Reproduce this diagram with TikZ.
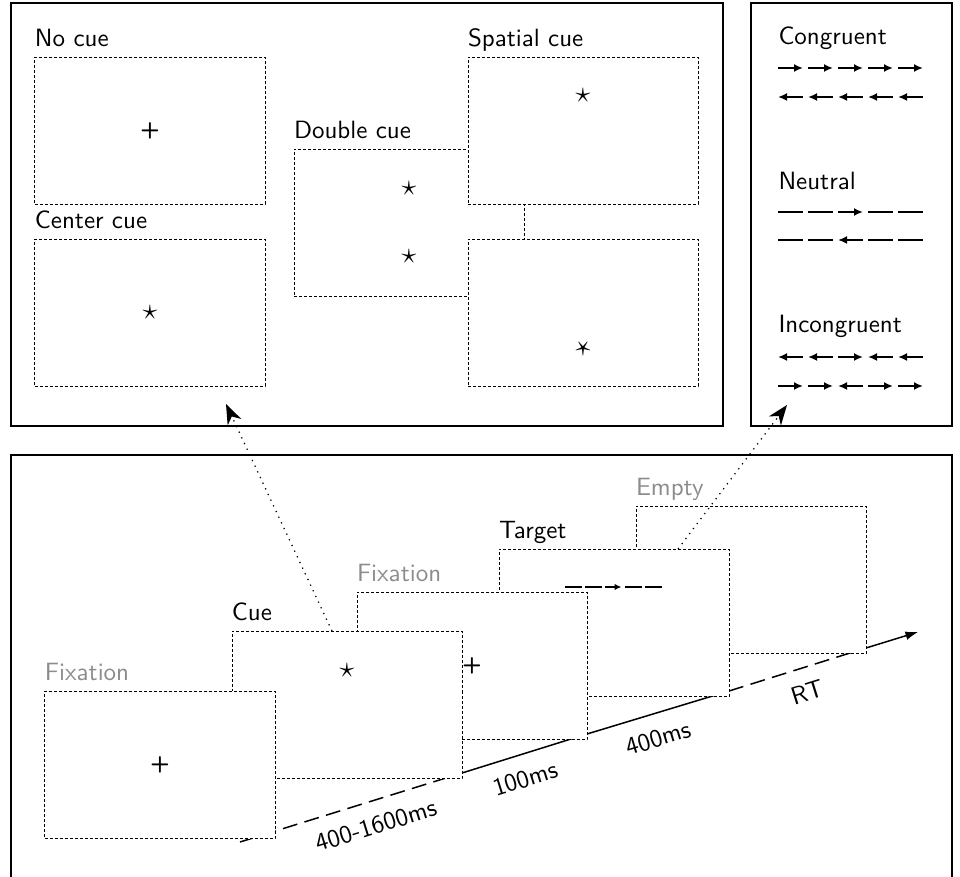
\documentclass[tikz,border=0pt]{standalone}
\usetikzlibrary{arrows.meta}
\renewcommand{\familydefault}{\sfdefault}
\newcommand{\fixcross}{{\small\bfseries +}}
\newcommand{\cuestar}{{\large$\star$}}

\tikzset{
  screen/.style={draw, fill=white, line width=0.4pt, dash pattern=on 1.2pt off 0.8pt,
    minimum width=92pt, minimum height=58.8pt, inner sep=0pt},
  caption/.style={anchor=base west, inner sep=0pt},
  faded/.style={caption, text=black!45},
  panel/.style={line width=0.5pt},
  zoomarrow/.style={dotted, line width=0.5pt, -{Stealth[length=8pt,width=6pt,inset=2.5pt]}},
  timeline/.style={line width=0.6pt},
  longdash/.style={dash pattern=on 6pt off 3pt},
  tlabel/.style={below, sloped, inner sep=6pt},
  fr/.style={-{Latex[length=3.6pt,width=3.2pt]}},
  fl/.style={{Latex[length=3.6pt,width=3.2pt]}-},
  fn/.style={}
}

\begin{document}
\begin{tikzpicture}[x=0.4pt, y=-0.4pt]
        \useasboundingbox (0,0) rectangle (960,877);
        \draw[panel] (11,3) rectangle (723,426);
        \draw[panel] (751,3) rectangle (952,426);
        \draw[panel] (11,455) rectangle (952,900);

        % cue conditions
        \node[screen] (nocue) at (150,131) {\fixcross};
        \node[screen] (center) at (150,313) {\cuestar};
        \node[screen] (double) at (409,223) {};
        \node (dblup) at ([yshift=13.6pt]double.center) {\cuestar};
        \node (dbldown) at ([yshift=-13.6pt]double.center) {\cuestar};
        \node[screen] (spatup) at (583,131) {};
        \node (spatupstar) at ([yshift=14pt]spatup.center) {\cuestar};
        \node[screen] (spatdown) at (583,313) {};
        \node[rotate=180] (spatdownstar) at ([yshift=-14pt]spatdown.center) {\cuestar};

        \node[caption] (nocuelbl) at ([yshift=4pt]nocue.north west) {No cue};
        \node[caption] (centerlbl) at ([yshift=4pt]center.north west) {Center cue};
        \node[caption] (doublelbl) at ([yshift=4pt]double.north west) {Double cue};
        \node[caption] (spatlbl) at ([yshift=4pt]spatup.north west) {Spatial cue};

        % flanker types
        \node[caption] (conglbl) at (778,45) {Congruent};
        \node[caption] (neutlbl) at (778,190) {Neutral};
        \node[caption] (inclbl) at (778,333) {Incongruent};
        \begin{scope}[line width=0.8pt]
        \foreach \y/\row in {68/{fr,fr,fr,fr,fr}, 97/{fl,fl,fl,fl,fl},
                             212/{fn,fn,fr,fn,fn}, 240/{fn,fn,fl,fn,fn},
                             357/{fl,fl,fr,fl,fl}, 386/{fr,fr,fl,fr,fr}}
          \foreach \s [count=\i from 0] in \row
            \draw[\s] (778+30*\i,\y) -- ++(25,0);
        \end{scope}

        % trial sequence
        \coordinate (t0) at (240,842);
        \coordinate (t1) at (462,773);
        \coordinate (t2) at (587,734);
        \coordinate (t3) at (729,691);
        \coordinate (t4) at (866,648);
        \coordinate (t5) at (918,632);
        \draw[timeline, longdash] (t0) -- node[tlabel, pos=0.58] (fixdur) {400-1600ms} (t1);
        \draw[timeline] (t1) -- node[tlabel, pos=0.45] (cuedur) {100ms} (t2)
                             -- node[tlabel, pos=0.45] (fix2dur) {400ms} (t3);
        \draw[timeline, longdash] (t3) -- node[tlabel, pos=0.52] (rtdur) {RT} (t4);
        \draw[timeline, -{Latex[length=5pt,width=3.5pt]}] (t4) -- (t5);

        \node[screen] (empty) at (751,580) {};
        \node[faded] (emptylbl) at ([yshift=4pt]empty.north west) {Empty};
        \node[screen] (target) at (614,623) {};
        \node[caption] (targetlbl) at ([yshift=4pt]target.north west) {Target};
        \begin{scope}[line width=0.7pt, fr/.style={-{Latex[length=2.8pt,width=2.6pt]}}]
        \foreach \s [count=\i from 0] in {fn,fn,fr,fn,fn}
          \draw[\s] (565+20*\i,587) -- ++(16.5,0);
        \end{scope}
        \node[screen] (fix2) at (472,666) {\fixcross};
        \node[faded] (fix2lbl) at ([yshift=4pt]fix2.north west) {Fixation};
        \node[screen] (cue) at (347,705) {};
        \node (cuestar) at ([yshift=13.8pt]cue.center) {\cuestar};
        \node[caption] (cuelbl) at ([yshift=4pt]cue.north west) {Cue};
        \node[screen] (fix1) at (160,765) {\fixcross};
        \node[faded] (fix1lbl) at ([yshift=4pt]fix1.north west) {Fixation};

        \coordinate (cuezoom) at (226,404);
        \coordinate (flankzoom) at (787,405);
        \draw[zoomarrow] ([xshift=-6pt]cue.north) -- (cuezoom);
        \draw[zoomarrow] ([xshift=25.6pt]target.north) -- (flankzoom);
\end{tikzpicture}
\end{document}
